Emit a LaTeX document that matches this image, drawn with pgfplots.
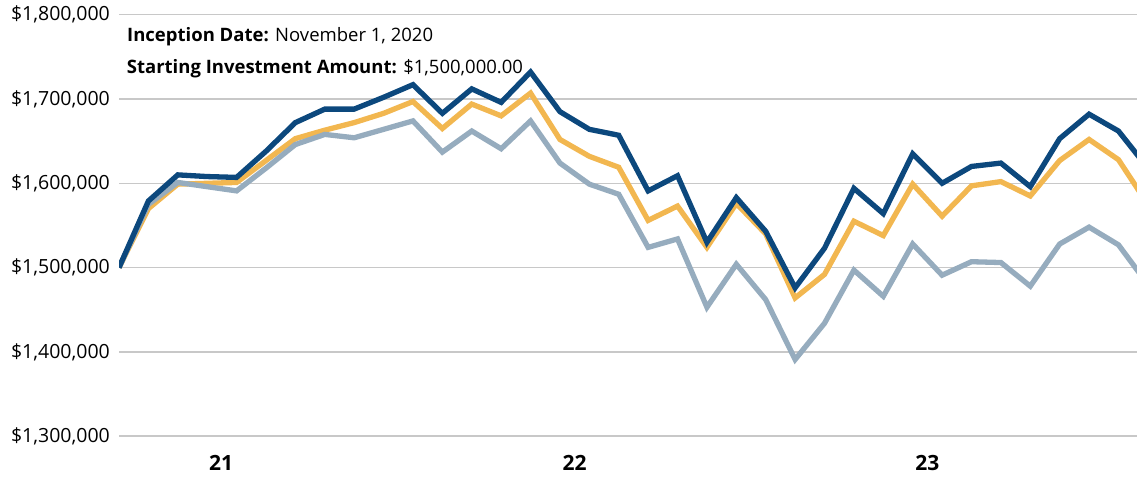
\documentclass[border=0pt]{standalone}
\usepackage{fontspec}
\setmainfont{Open Sans}
\usepackage{pgfplots}
\pgfplotsset{compat=1.18}
\definecolor{navy}{RGB}{12,72,125}
\definecolor{gold}{RGB}{242,183,80}
\definecolor{slate}{RGB}{150,172,190}
\definecolor{gridgray}{RGB}{200,200,200}
\pgfplotstableread{
i dark gold gray
0 1500000 1500000 1500000
1 1579000 1570000 1575000
2 1610000 1599000 1601000
3 1608000 1600000 1596000
4 1607000 1601000 1591000
5 1638000 1627000 1618000
6 1672000 1653000 1646000
7 1688000 1663000 1658000
8 1688000 1672000 1654000
9 1702000 1683000 1664000
10 1717000 1697000 1674000
11 1683000 1665000 1637000
12 1712000 1694000 1662000
13 1696000 1680000 1641000
14 1732000 1707000 1674000
15 1685000 1652000 1624000
16 1664000 1632000 1599000
17 1657000 1619000 1587000
18 1591000 1556000 1524000
19 1609000 1573000 1534000
20 1530000 1524000 1453000
21 1583000 1576000 1504000
22 1543000 1540000 1462000
23 1476000 1464000 1391000
24 1523000 1492000 1434000
25 1594000 1555000 1497000
26 1564000 1538000 1466000
27 1635000 1599000 1528000
28 1600000 1561000 1491000
29 1620000 1597000 1507000
30 1624000 1602000 1506000
31 1596000 1585000 1478000
32 1653000 1627000 1528000
33 1682000 1652000 1548000
34 1662000 1628000 1527000
35 1618000 1575000 1480000
}\datatable
\begin{document}
\begin{tikzpicture}[x=1pt,y=1pt]
\begin{axis}[
  at={(119pt,40.8pt)}, anchor=south west,
  scale only axis, width=1018pt, height=421.5pt,
  xmin=0, xmax=34.63, ymin=1300000, ymax=1800000,
  ytick={1300000,1400000,1500000,1600000,1700000,1800000},
  yticklabels={{\$1,300,000},{\$1,400,000},{\$1,500,000},{\$1,600,000},{\$1,700,000},{\$1,800,000}},
  scaled y ticks=false,
  xtick={3.47,15.5,27.5}, xticklabels={21,22,23},
  axis line style={draw=none}, major tick length=0pt, tick style={draw=none},
  ymajorgrids, major grid style={draw=gridgray, line width=1.5pt},
  yticklabel style={anchor=east, inner sep=0pt, xshift=-9pt, font=\fontsize{19.5}{23}\selectfont},
  xticklabel style={anchor=north, inner sep=0pt, yshift=-19pt, font=\fontsize{21}{24}\selectfont\bfseries},
  every axis plot/.append style={line width=5.3pt, no markers},
]
\addplot[gold] table[x=i, y=gold] {\datatable};
\addplot[slate] table[x=i, y=gray] {\datatable};
\addplot[navy] table[x=i, y=dark] {\datatable};
\end{axis}
\node[anchor=base west, inner sep=0pt, font=\fontsize{18.5}{22}\selectfont] at (127,435.3) {\textbf{Inception Date:} November 1, 2020};
\node[anchor=base west, inner sep=0pt, font=\fontsize{18.5}{22}\selectfont] at (126.7,403.7) {\textbf{Starting Investment Amount:} \$1,500,000.00};
\pgfresetboundingbox
\path[use as bounding box] (0,0) rectangle (1137,477);
\end{tikzpicture}
\end{document}
